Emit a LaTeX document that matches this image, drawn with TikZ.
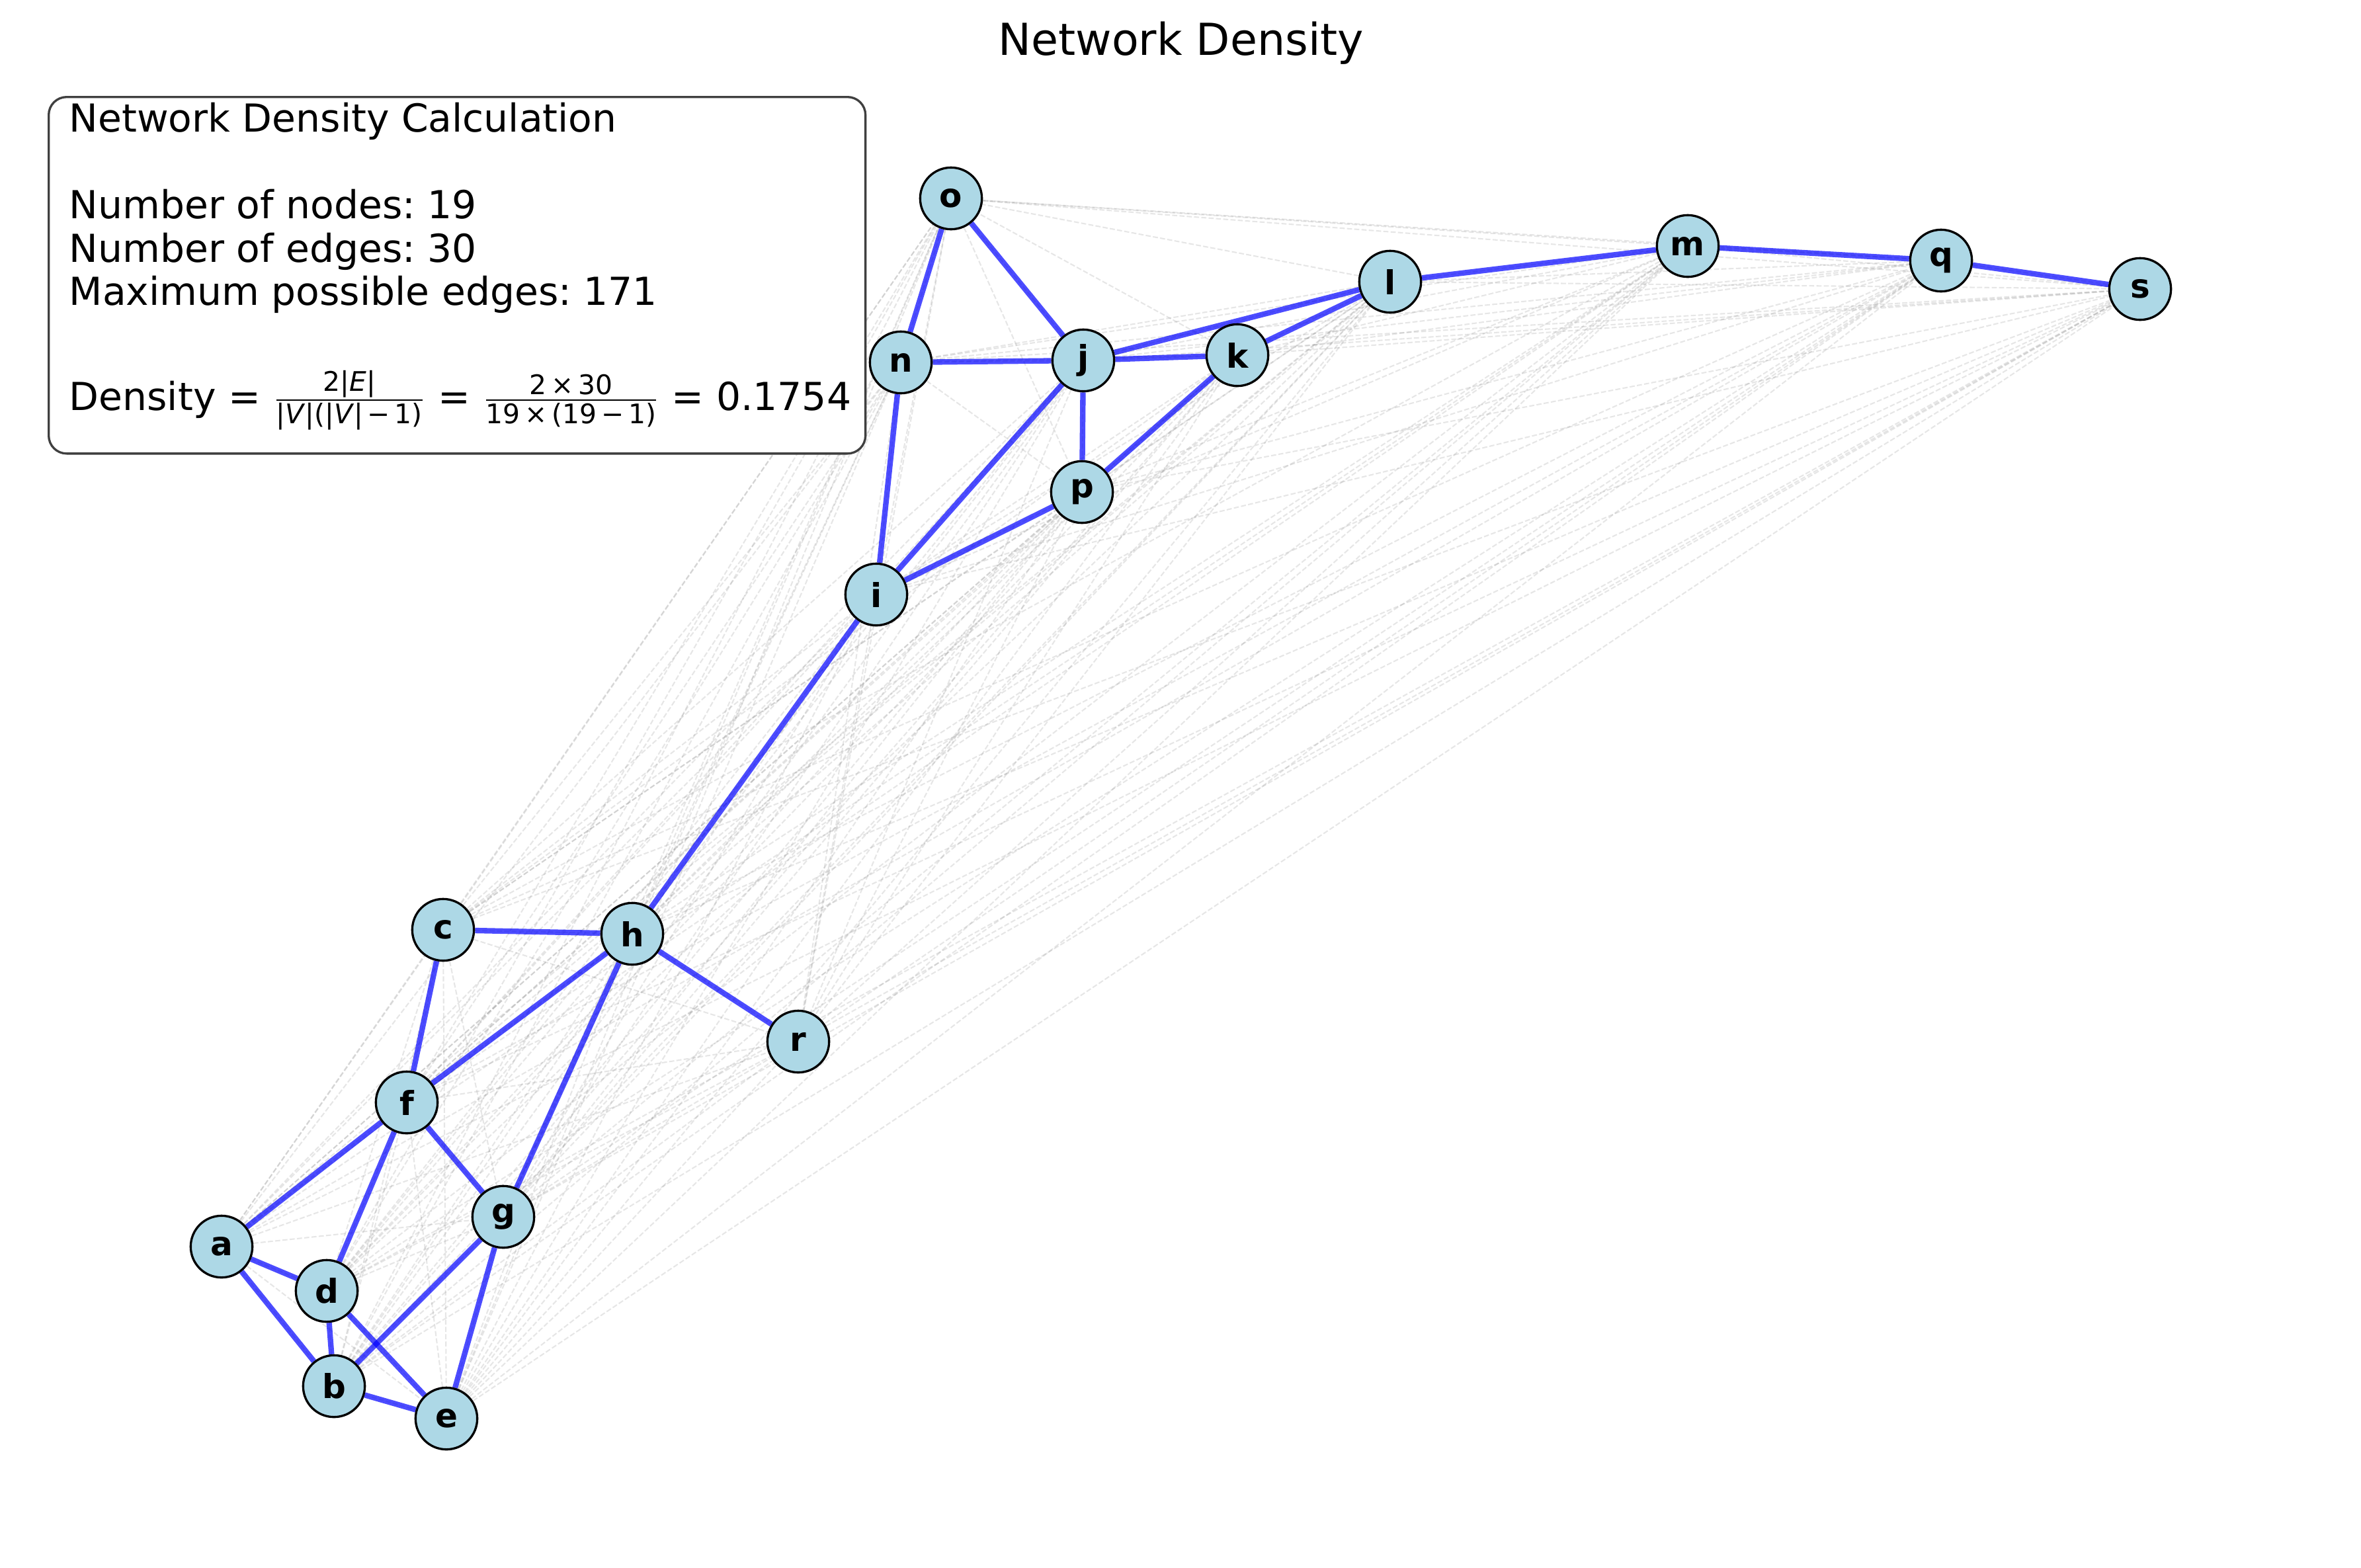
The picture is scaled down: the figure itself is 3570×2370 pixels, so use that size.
\documentclass[tikz,border=0pt]{standalone}
\usepackage{amsmath}
\usepackage{fontspec}
\setmainfont{DejaVu Sans}
\usepackage{tikz}
\usetikzlibrary{backgrounds}
\definecolor{nodeblue}{RGB}{173,216,230}
\frenchspacing

\begin{document}
\begin{tikzpicture}[x=0.24pt, y=-0.24pt,
            vertex/.style={circle, draw=black, line width=0.8pt, fill=nodeblue, minimum size=22.4pt, inner sep=0pt, font=\fontsize{12}{14}\selectfont\bfseries},
            linkline/.style={draw=blue, draw opacity=0.7, line width=2pt},
            pairline/.style={draw=gray, draw opacity=0.2, line width=0.5pt, dash pattern=on 1.85pt off 0.8pt},
            infotext/.style={anchor=base west, inner sep=0pt, font=\fontsize{14}{17}\selectfont}]
            \useasboundingbox (0,0) rectangle (3570,2370);
            \node[anchor=base, inner sep=0pt, font=\fontsize{16}{19}\selectfont] (title) at (1786,83) {Network Density};

            \node[vertex] (o) at (1438,300) {o};
            \node[vertex] (n) at (1362,548) {n};
            \node[vertex] (j) at (1638,545) {j};
            \node[vertex] (k) at (1871,537) {k};
            \node[vertex] (l) at (2102,426) {l};
            \node[vertex] (m) at (2552,372) {m};
            \node[vertex] (q) at (2935,394) {q};
            \node[vertex] (s) at (3236,437) {s};
            \node[vertex] (p) at (1636,744) {p};
            \node[vertex] (i) at (1325,899) {i};
            \node[vertex] (c) at (670,1406) {c};
            \node[vertex] (h) at (956,1412) {h};
            \node[vertex] (r) at (1207,1575) {r};
            \node[vertex] (f) at (615,1667) {f};
            \node[vertex] (g) at (761,1840) {g};
            \node[vertex] (a) at (335,1885) {a};
            \node[vertex] (d) at (494,1952) {d};
            \node[vertex] (b) at (505,2096) {b};
            \node[vertex] (e) at (675,2145) {e};

            \begin{pgfonlayer}{background}
            % every possible pair, faint
            \foreach \u [count=\ui] in {a,...,s}
                \foreach \v [count=\vi] in {a,...,s}
                    {\ifnum\vi>\ui \draw[pairline] (\u) -- (\v); \fi}
            \draw[linkline] (o) -- (n);
            \draw[linkline] (o) -- (j);
            \draw[linkline] (n) -- (j);
            \draw[linkline] (j) -- (k);
            \draw[linkline] (j) -- (l);
            \draw[linkline] (k) -- (l);
            \draw[linkline] (l) -- (m);
            \draw[linkline] (m) -- (q);
            \draw[linkline] (q) -- (s);
            \draw[linkline] (j) -- (p);
            \draw[linkline] (k) -- (p);
            \draw[linkline] (n) -- (i);
            \draw[linkline] (j) -- (i);
            \draw[linkline] (p) -- (i);
            \draw[linkline] (i) -- (h);
            \draw[linkline] (c) -- (h);
            \draw[linkline] (h) -- (f);
            \draw[linkline] (h) -- (g);
            \draw[linkline] (h) -- (r);
            \draw[linkline] (c) -- (f);
            \draw[linkline] (f) -- (a);
            \draw[linkline] (f) -- (d);
            \draw[linkline] (f) -- (g);
            \draw[linkline] (a) -- (d);
            \draw[linkline] (a) -- (b);
            \draw[linkline] (d) -- (b);
            \draw[linkline] (d) -- (e);
            \draw[linkline] (b) -- (g);
            \draw[linkline] (b) -- (e);
            \draw[linkline] (g) -- (e);
            \end{pgfonlayer}

            \node[anchor=north west, draw=black!75, fill=white, line width=0.8pt, rounded corners=6.5pt, minimum width=296.4pt, minimum height=129.4pt, inner sep=0pt] (box) at (72,145) {};
            \node[infotext] (head) at (104,199) {Network Density Calculation};
            \node[infotext] (nodes) at (104,330) {Number of nodes: 19};
            \node[infotext] (edges) at (104,396) {Number of edges: 30};
            \node[infotext] (maxedges) at (104,461) {Maximum possible edges: 171};
            \node[infotext] (density) at (104,620) {Density = $\frac{\mbox{\fontsize{9.8}{11}\selectfont 2|\textit{E}|}}{\mbox{\fontsize{9.8}{11}\selectfont |\textit{V}|(|\textit{V}|\,−\,1)}}$ = $\frac{\mbox{\fontsize{9.8}{11}\selectfont 2\,×\,30}}{\mbox{\fontsize{9.8}{11}\selectfont 19\,×\,(19\,−\,1)}}$ = 0.1754};
        \end{tikzpicture}
\end{document}
